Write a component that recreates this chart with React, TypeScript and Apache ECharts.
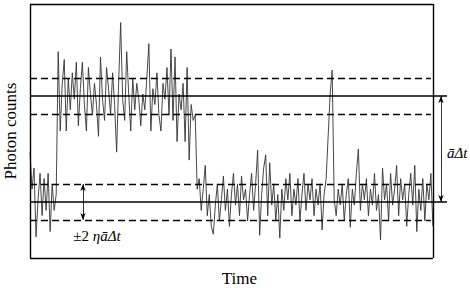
import React, { useEffect, useRef } from 'react';
import * as echarts from 'echarts';

// Photon counts per time bin
const counts: number[] = [
  20, 13, 17, 4, 11, 16, 8, 15, 9, 16, 5, 14, 9, 12,
  39, 24, 33, 37.5, 24, 34, 28, 35, 30, 37, 25, 32, 37, 29, 24, 36, 31, 27, 33, 29,
  23, 38, 30, 26, 36, 32, 27, 35, 29, 20, 33, 44.5, 30, 26, 39, 31, 24, 34, 28, 33,
  30, 25, 31, 28, 34, 40.5, 24, 32, 29, 35, 27, 24, 33, 30, 36, 27, 39.5, 26, 38, 22,
  31, 28, 33, 22, 36, 18.5, 29, 26, 27, 13,
  15, 9, 13, 17.5, 8, 12, 6, 4.5, 10, 14, 7, 11, 15.5, 9, 13, 6, 12, 16, 10, 14,
  8, 15.5, 11, 13, 7, 12, 16, 9, 14, 20.4, 4.3, 12, 17, 19.5, 8, 18, 10, 14, 7, 12,
  3.8, 13, 9, 15, 11, 16, 8, 13, 10, 15, 7, 12, 16, 9, 14, 11, 15, 8, 13, 10,
  14, 5.3, 12, 15, 23, 31, 35.5, 11, 8, 13, 10, 14, 7, 12, 15, 5.8, 13, 10, 16, 20.6,
  9, 14, 11, 15, 8, 13, 10, 16, 9, 12, 3.4, 17, 11, 14, 7, 16, 10, 13, 17.5, 8,
  15, 11, 14, 6, 12, 16, 10, 17.5, 5, 13, 9, 15, 7, 14, 11, 16, 6,
];
const timeIndex: number[] = counts.map((_, i) => i);

const lowLevel = 10.6;
const highLevel = 30.6;
const bandHalf = 3.4;
const dashedLevels = [lowLevel - bandHalf, lowLevel + bandHalf, highLevel - bandHalf, highLevel + bandHalf];
const yMin = 0;
const yMax = 48;
const xEnd = counts.length - 1; // right edge of the frame
const xExtent = 207;            // solid lines run past the frame
const arrowX = 204;             // mean-level double arrow
const smallArrowX = 26.3;       // band-width double arrow
const dashEnd = 199;

const xLabel = 'Time';
const yLabel = 'Photon counts';

const serif = 'Liberation Serif';

export default function App() {
  const ref = useRef<HTMLDivElement>(null);
  useEffect(() => {
    if (!ref.current) return;
    const chart = echarts.init(ref.current, undefined, { renderer: 'svg' });
    const solid = (w: number) => ({ type: 'solid' as const, color: '#000', width: w });
    const seg = (a: number[], b: number[], ls: any, arrows = false) => [
      { coord: a, lineStyle: ls, symbol: arrows ? 'arrow' : 'none', symbolSize: [4, 7] },
      { coord: b, symbol: arrows ? 'arrow' : 'none', symbolSize: [4, 7] },
    ];
    const frame = solid(1.4);
    const mlData: any[] = [
      seg([0, yMin], [xEnd, yMin], frame),
      seg([0, yMax], [xEnd, yMax], frame),
      seg([0, yMin], [0, yMax], frame),
      seg([xEnd, yMin], [xEnd, yMax], frame),
      seg([0, lowLevel], [xExtent, lowLevel], solid(1.6)),
      seg([0, highLevel], [xExtent, highLevel], solid(1.6)),
      ...dashedLevels.map((v) => seg([0, v], [dashEnd, v], { type: [7, 4], color: '#000', width: 1.3 })),
      seg([smallArrowX, lowLevel + bandHalf], [smallArrowX, lowLevel - bandHalf], solid(0.8), true),
      seg([arrowX, highLevel], [arrowX, lowLevel], solid(0.8), true),
    ];
    chart.setOption({
      animation: false,
      grid: { left: 30, top: 4, right: 23, bottom: 30, show: false },
      xAxis: {
        type: 'value', min: 0, max: xExtent,
        axisLine: { show: false }, axisTick: { show: false }, axisLabel: { show: false }, splitLine: { show: false },
      },
      yAxis: {
        type: 'value', min: yMin, max: yMax,
        axisLine: { show: false }, axisTick: { show: false }, axisLabel: { show: false }, splitLine: { show: false },
      },
      series: [
        {
          type: 'line',
          data: timeIndex.map((t, i) => [t, counts[i]]),
          showSymbol: false,
          clip: false,
          lineStyle: { color: '#333', width: 0.9 },
          silent: true,
          markLine: {
            silent: true,
            symbol: 'none',
            label: { show: false },
            emphasis: { disabled: true },
            data: mlData,
          },
        },
      ],
    });
    const px = (p: number[]) => chart.convertToPixel({ gridIndex: 0 }, p) as number[];
    const bl = px([0, yMin]);
    const tr = px([xEnd, yMax]);
    const arrowMid = px([arrowX, (lowLevel + highLevel) / 2]);
    const bandLbl = px([smallArrowX, lowLevel - bandHalf]);
    const txt = (size: number, italic = false) => ({
      fontFamily: serif, fontSize: size, fontStyle: italic ? 'italic' : 'normal', fill: '#000',
    });
    chart.setOption({
      graphic: [
        {
          type: 'text', x: (bl[0] + tr[0]) / 2 + 8, y: bl[1] + 20,
          style: { text: xLabel, ...txt(17), align: 'center', verticalAlign: 'middle' },
        },
        {
          type: 'text', x: 10, y: (bl[1] + tr[1]) / 2, rotation: Math.PI / 2,
          style: { text: yLabel, ...txt(17), align: 'center', verticalAlign: 'middle' },
        },
        {
          type: 'text', x: arrowMid[0] + 6, y: arrowMid[1] + 4,
          style: { text: 'ā\u0394t', ...txt(15, true), align: 'left', verticalAlign: 'middle' },
        },
        {
          type: 'text', x: bandLbl[0] + 14, y: bandLbl[1] + 16,
          style: {
            text: '{n|±2}{i| ηā\u0394t}', ...txt(15), align: 'center', verticalAlign: 'middle',
            rich: {
              n: txt(15),
              i: txt(15, true),
            },
          },
        },
      ],
    });
    return () => chart.dispose();
  }, []);
  return <div ref={ref} style={{ width: 470, height: 288, position: 'absolute', left: 0, top: 0 }} />;
}
